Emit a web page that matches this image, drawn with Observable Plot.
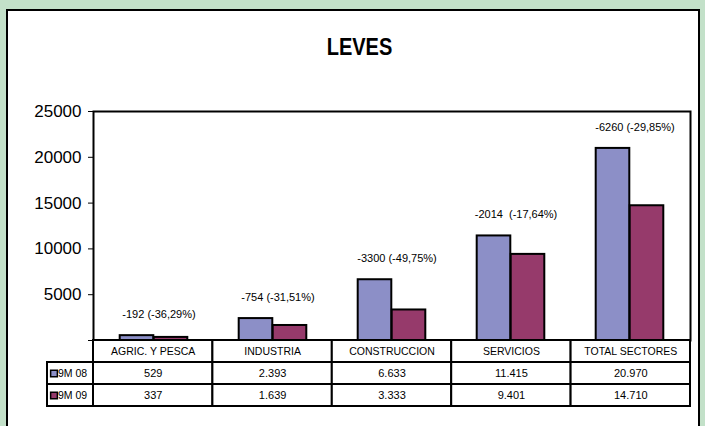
<!DOCTYPE html>
<html>
<head>
<meta charset="utf-8">
<script src="https://cdn.jsdelivr.net/npm/d3@7"></script>
<script src="https://cdn.jsdelivr.net/npm/@observablehq/plot@0.6"></script>
<style>
  html, body { margin: 0; padding: 0; }
  body { width: 705px; height: 426px; background: #C3E1C9; position: relative; overflow: hidden; font-family: "Liberation Sans", Arial, sans-serif; }
  #panel { position: absolute; left: 6px; top: 9px; width: 694px; height: 440px; box-sizing: border-box; border: 2px solid #000; background: #fff; }
  #title { position: absolute; left: 0; top: 37px; width: 719px; text-align: center; font: bold 20px "Liberation Sans", Arial, sans-serif; line-height: 20px; transform: scaleY(1.2); }
  #chart { position: absolute; left: 0; top: 100px; }
  #table { position: absolute; left: 0; top: 336px; }
  svg { overflow: visible; }
</style>
</head>
<body>
<div id="panel"></div>
<div id="title">LEVES</div>
<div id="chart"></div>
<div id="table"></div>
<script>
// ---- data ----
const categories = ["AGRIC. Y PESCA", "INDUSTRIA", "CONSTRUCCION", "SERVICIOS", "TOTAL SECTORES"];
const seriesNames = ["9M 08", "9M 09"];
const values08 = [529, 2393, 6633, 11415, 20970];
const values09 = [337, 1639, 3333, 9401, 14710];
const diffLabels = ["-192 (-36,29%)", "-754 (-31,51%)", "-3300 (-49,75%)", "-2014  (-17,64%)", "-6260 (-29,85%)"];
const yTicks = [0, 5000, 10000, 15000, 20000, 25000];
const colors = ["#8C8FC7", "#963A6B"];

// ---- layout ----
const W = 705, mL = 93, mR = 15;
const colW = (W - mL - mR) / categories.length;
const barW = 34;
const inset = (colW - barW) / 2;

const rows08 = categories.map((c, i) => ({cat: c, value: values08[i]}));
const rows09 = categories.map((c, i) => ({cat: c, value: values09[i]}));

const chart = Plot.plot({
  width: W,
  height: 244,
  marginLeft: mL,
  marginRight: mR,
  marginTop: 11,
  marginBottom: 4,
  style: {fontSize: "17px", fontFamily: "'Liberation Sans', Arial, sans-serif", background: "transparent", color: "#000", whiteSpace: "pre"},
  x: {domain: categories, padding: 0, axis: null},
  y: {domain: [0, 25000], ticks: yTicks, tickFormat: d => d === 0 ? "" : String(d), tickSize: 5, tickPadding: 7, label: null},
  marks: [
    Plot.barY(rows08, {x: "cat", y: "value", fill: colors[0], stroke: "#000", strokeWidth: 2, insetLeft: inset, insetRight: inset, dx: -barW / 2}),
    Plot.barY(rows09, {x: "cat", y: "value", fill: colors[1], stroke: "#000", strokeWidth: 2, insetLeft: inset, insetRight: inset, dx: barW / 2}),
    Plot.text(categories, {x: d => d, y: (d, i) => Math.max(values08[i], values09[i]), text: (d, i) => diffLabels[i], dy: -21, dx: 5, fontSize: 11, fill: "#000"}),
    Plot.frame({stroke: "#000", strokeWidth: 2})
  ]
});
document.getElementById("chart").append(chart);

// ---- data table ----
const fmt = d3.formatLocale({decimal: ",", thousands: ".", grouping: [3], currency: ["", ""]}).format(",");
const legW = (mL - 47) / colW;
const valueSets = [values08, values09];
const cells = [];
categories.forEach((c, i) => cells.push({x1: i, x2: i + 1, y1: 0, y2: 1, t: c, fs: 10.5}));
valueSets.forEach((vals, r) => {
  cells.push({x1: -legW, x2: 0, y1: r + 1, y2: r + 2, t: "", fs: 10.5});
  vals.forEach((v, i) => cells.push({x1: i, x2: i + 1, y1: r + 1, y2: r + 2, t: fmt(v), fs: 11}));
});
const legendRows = seriesNames.map((s, r) => ({s, r, x: -legW, y: r + 1.5, color: colors[r]}));

const table = Plot.plot({
  width: W,
  height: 74,
  marginLeft: mL,
  marginRight: mR,
  marginTop: 4,
  marginBottom: 4,
  style: {fontFamily: "'Liberation Sans', Arial, sans-serif", background: "transparent", color: "#000"},
  x: {type: "linear", domain: [0, categories.length], axis: null},
  y: {type: "linear", domain: [3, 0], axis: null},
  marks: [
    Plot.rect(cells, {x1: "x1", x2: "x2", y1: "y1", y2: "y2", fill: "#fff", stroke: "#000", strokeWidth: 2}),
    Plot.text(cells.filter(d => d.fs === 10.5), {x: d => (d.x1 + d.x2) / 2, y: d => (d.y1 + d.y2) / 2, text: "t", fontSize: 10.5, fill: "#000"}),
    Plot.text(cells.filter(d => d.fs === 11), {x: d => (d.x1 + d.x2) / 2, y: d => (d.y1 + d.y2) / 2, text: "t", fontSize: 11, fill: "#000"}),
    Plot.dot(legendRows, {x: "x", y: "y", symbol: "square", r: 3.8, fill: "color", stroke: "#000", strokeWidth: 1.5, dx: 6.5}),
    Plot.text(legendRows, {x: "x", y: "y", text: "s", textAnchor: "start", dx: 10.5, fontSize: 10.5, fill: "#000"})
  ]
});
document.getElementById("table").append(table);
</script>
</body>
</html>
